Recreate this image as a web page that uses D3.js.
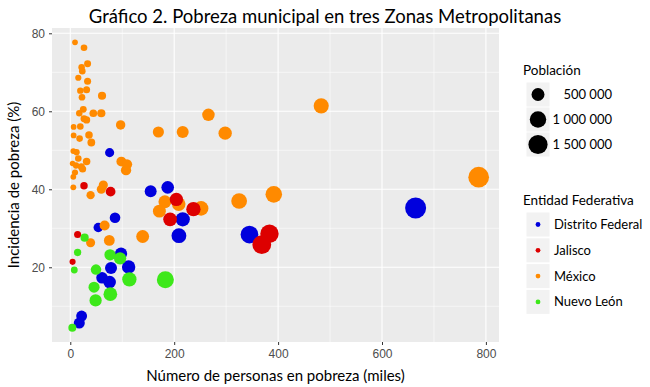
<!DOCTYPE html>
<html>
<head>
<meta charset="utf-8">
<script src="https://cdn.jsdelivr.net/npm/d3@7"></script>
<style>
  body { margin: 0; background: #fff; }
  svg { font-family: Lato, "Noto Sans", sans-serif; }
  .tick-label { font-size: 12px; fill: #4d4d4d; }
  .axis-title { font-size: 15px; fill: #000; }
  .legend-title { font-size: 13.5px; fill: #000; }
  .legend-label { font-size: 13px; fill: #000; }
</style>
</head>
<body>
<svg id="chart"></svg>
<script>
// Municipios: personas en pobreza (miles), incidencia (%), población
const dfPobres      = [75.7, 154.7, 187.5, 216.4, 209.1, 86.1, 53.9, 97.7, 78.4, 112.3, 61.1, 75.7, 21.8, 17.3, 344.9, 664.7];
const dfIncidencia  = [49.4, 39.5, 40.5, 32.3, 28.1, 32.7, 30.2, 23.5, 19.8, 20.1, 17.3, 16.2, 7.5, 5.7, 28.4, 35.2];
const dfPoblacion   = [153200, 391600, 463000, 670000, 744000, 263300, 178500, 415700, 396000, 558700, 353200, 467300, 290700, 303500, 1214000, 1888000];

const jalPobres     = [26.4, 77.6, 204.2, 237.0, 192.1, 14.1, 4.4, 383.4, 368.6];
const jalIncidencia = [40.9, 39.4, 37.4, 34.9, 32.3, 28.4, 21.4, 28.6, 25.8];
const jalPoblacion  = [64500, 197000, 546000, 679000, 594700, 49600, 20600, 1340600, 1428700];

const mexPobres     = [9.1, 26.4, 33.3, 21.8, 23.1, 15.4, 33.3, 19.3, 31.4, 22.5, 61.1, 25.0, 17.3, 44.3, 59.7, 26.4, 31.4, 96.9, 6.4, 19.3,
                       169.6, 216.4, 6.4, 17.9, 36.0, 40.5, 5.8, 12.1, 15.4, 31.4, 4.4, 11.0, 21.2, 23.7, 9.1, 5.8, 98.3, 109.2, 107.3, 5.8,
                       63.6, 59.7, 39.1, 182.1, 171.5, 208.7, 251.8, 66.1, 39.1, 75.1, 139.3, 325.0, 391.7, 265.9, 298.1, 483.0, 786.1];
const mexIncidencia = [77.7, 76.3, 72.2, 71.3, 70.3, 68.6, 67.7, 65.3, 65.5, 63.6, 64.0, 60.5, 59.5, 59.5, 59.5, 58.1, 57.8, 56.5, 56.0, 56.1,
                       54.7, 54.7, 53.8, 53.0, 53.9, 52.0, 49.8, 49.5, 47.9, 47.1, 46.6, 46.1, 45.8, 45.2, 44.3, 43.2, 47.1, 46.4, 44.9, 40.5,
                       41.1, 40.0, 38.5, 36.8, 34.4, 36.2, 35.1, 30.7, 26.3, 26.9, 27.9, 37.0, 38.7, 59.1, 54.4, 61.4, 43.1];
const mexPoblacion  = [11700, 34600, 46100, 30600, 32900, 22400, 49200, 29600, 47900, 35400, 95500, 41300, 29100, 74500, 100300, 45400, 54300, 171500, 11400, 34400,
                       310000, 395600, 11900, 33800, 66800, 77900, 11600, 24400, 32200, 66700, 9400, 23900, 46300, 52400, 20500, 13400, 208700, 235300, 239000, 14300,
                       154700, 149300, 101600, 494800, 498500, 576500, 717400, 215300, 148700, 279200, 499300, 878400, 1012000, 449900, 548000, 786600, 1824000];

const nlPobres      = [27.6, 14.1, 76.5, 95.8, 7.7, 49.5, 113.7, 183.0, 45.7, 77.1, 48.7, 3.9];
const nlIncidencia  = [27.6, 23.8, 23.2, 22.3, 19.3, 19.4, 16.9, 16.8, 14.9, 13.1, 11.5, 4.5];
const nlPoblacion   = [100000, 59200, 329700, 429600, 39900, 255200, 672800, 1089000, 306700, 588500, 423500, 86700];

const entidades = ["Distrito Federal", "Jalisco", "México", "Nuevo León"];
const colores   = ["#0000dd", "#dd0000", "#ff8a00", "#3de81a"];
const drawOrder = ["Distrito Federal", "México", "Jalisco", "Nuevo León"];

const xTicks = [0, 200, 400, 600, 800];
const yTicks = [20, 40, 60, 80];
const sizeBreaks = [500000, 1000000, 1500000];
const sizeLabels = ["500 000", "1 000 000", "1 500 000"];

const series = {
    "Distrito Federal": [dfPobres, dfIncidencia, dfPoblacion],
    "Jalisco": [jalPobres, jalIncidencia, jalPoblacion],
    "México": [mexPobres, mexIncidencia, mexPoblacion],
    "Nuevo León": [nlPobres, nlIncidencia, nlPoblacion]
};

const points = [];
drawOrder.forEach(ent => {
    const [xs, ys, ps] = series[ent];
    xs.forEach((v, i) => points.push({ ent, x: v, y: ys[i], pop: ps[i] }));
});

const W = 650, H = 387;
const panel = { left: 52, right: 499, top: 28, bottom: 342 };

const svg = d3.select("#chart").attr("width", W).attr("height", H);

// ggplot-style 5% expansion of the data range
const expand = (ext) => { const d = (ext[1] - ext[0]) * 0.05; return [ext[0] - d, ext[1] + d]; };

const x = d3.scaleLinear()
    .domain(expand(d3.extent(points, d => d.x)))
    .range([panel.left, panel.right]);
const y = d3.scaleLinear()
    .domain(expand(d3.extent(points, d => d.y)))
    .range([panel.bottom, panel.top]);
const r = d3.scaleSqrt()
    .domain([0, d3.max(points, d => d.pop)])
    .range([2.2, 10.5]);
const color = d3.scaleOrdinal().domain(entidades).range(colores);

// Panel background
svg.append("rect")
    .attr("x", panel.left).attr("y", panel.top)
    .attr("width", panel.right - panel.left).attr("height", panel.bottom - panel.top)
    .attr("fill", "#ebebeb");

// Minor grid lines (between the major ones)
const xMinor = d3.range(-100, 900, 200).filter(v => x(v) > panel.left && x(v) < panel.right);
const yMinor = d3.range(10, 90, 20).filter(v => y(v) > panel.top && y(v) < panel.bottom);
const grid = svg.append("g");
grid.selectAll(".xminor").data(xMinor).join("line")
    .attr("x1", d => x(d)).attr("x2", d => x(d))
    .attr("y1", panel.top).attr("y2", panel.bottom)
    .attr("stroke", "#fff").attr("stroke-width", 0.55);
grid.selectAll(".yminor").data(yMinor).join("line")
    .attr("x1", panel.left).attr("x2", panel.right)
    .attr("y1", d => y(d)).attr("y2", d => y(d))
    .attr("stroke", "#fff").attr("stroke-width", 0.55);
grid.selectAll(".xmajor").data(xTicks).join("line")
    .attr("x1", d => x(d)).attr("x2", d => x(d))
    .attr("y1", panel.top).attr("y2", panel.bottom)
    .attr("stroke", "#fff").attr("stroke-width", 1.1);
grid.selectAll(".ymajor").data(yTicks).join("line")
    .attr("x1", panel.left).attr("x2", panel.right)
    .attr("y1", d => y(d)).attr("y2", d => y(d))
    .attr("stroke", "#fff").attr("stroke-width", 1.1);

// Points
svg.append("g").selectAll("circle").data(points).join("circle")
    .attr("cx", d => x(d.x))
    .attr("cy", d => y(d.y))
    .attr("r", d => r(d.pop))
    .attr("fill", d => color(d.ent));

// Axes
const xAxis = svg.append("g")
    .attr("transform", `translate(0,${panel.bottom})`)
    .call(d3.axisBottom(x).tickValues(xTicks).tickSize(3).tickPadding(4));
const yAxis = svg.append("g")
    .attr("transform", `translate(${panel.left},0)`)
    .call(d3.axisLeft(y).tickValues(yTicks).tickSize(3).tickPadding(4));
[xAxis, yAxis].forEach(a => {
    a.select(".domain").remove();
    a.selectAll(".tick line").attr("stroke", "#333");
    a.selectAll(".tick text").attr("class", "tick-label").attr("font-family", null).attr("font-size", null);
});

// Axis titles
svg.append("text")
    .attr("class", "axis-title")
    .attr("x", (panel.left + panel.right) / 2)
    .attr("y", 381)
    .attr("text-anchor", "middle")
    .text("Número de personas en pobreza (miles)");
svg.append("text")
    .attr("class", "axis-title")
    .attr("transform", `translate(19,${(panel.top + panel.bottom) / 2}) rotate(-90)`)
    .attr("text-anchor", "middle")
    .text("Incidencia de pobreza (%)");

// Title
svg.append("text")
    .attr("x", W / 2)
    .attr("y", 23)
    .attr("text-anchor", "middle")
    .attr("font-size", "18.5px")
    .text("Gráfico 2. Pobreza municipal en tres Zonas Metropolitanas");

// Size legend
const lg = svg.append("g");
lg.append("text").attr("class", "legend-title").attr("x", 523).attr("y", 75).text("Población");
const sizeKeys = lg.selectAll(".skey").data(sizeBreaks).join("g")
    .attr("transform", (d, i) => `translate(538,${94.5 + i * 25})`);
sizeKeys.append("rect")
    .attr("x", -11.5).attr("y", -12).attr("width", 23).attr("height", 24)
    .attr("fill", "#f2f2f2");
sizeKeys.append("circle").attr("r", d => r(d)).attr("fill", "#000");
sizeKeys.append("text")
    .attr("class", "legend-label")
    .attr("x", 74).attr("dy", "0.35em")
    .attr("text-anchor", "end")
    .text((d, i) => sizeLabels[i]);

// Colour legend
lg.append("text").attr("class", "legend-title").attr("x", 523).attr("y", 205).text("Entidad Federativa");
const colKeys = lg.selectAll(".ckey").data(entidades).join("g")
    .attr("transform", (d, i) => `translate(538,${224.5 + i * 25.8})`);
colKeys.append("rect")
    .attr("x", -11.5).attr("y", -12).attr("width", 23).attr("height", 24)
    .attr("fill", "#f2f2f2");
colKeys.append("circle").attr("r", 2.4).attr("fill", d => color(d));
colKeys.append("text")
    .attr("class", "legend-label")
    .attr("x", 16).attr("dy", "0.35em")
    .text(d => d);
</script>
</body>
</html>
